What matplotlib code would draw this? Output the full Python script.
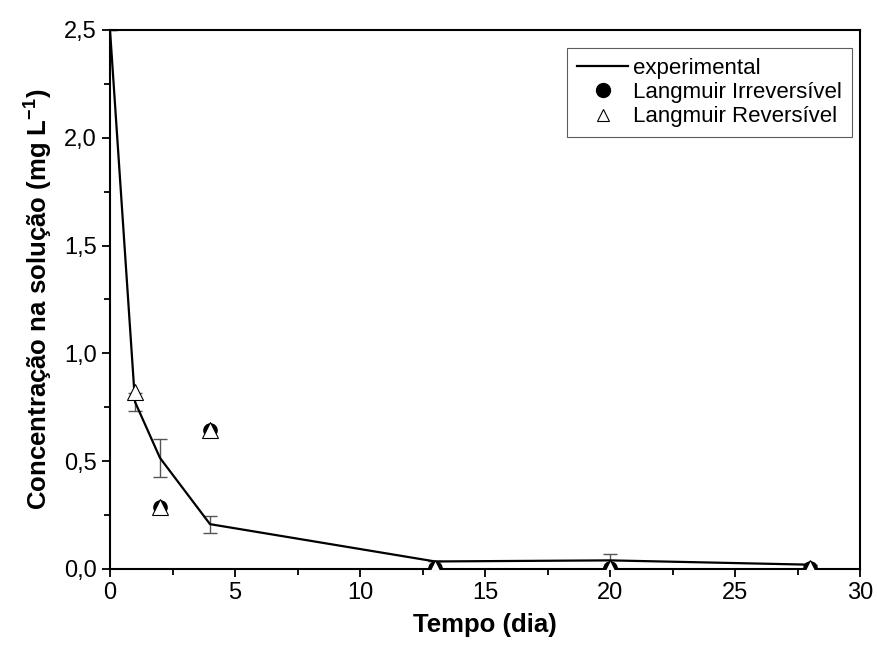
import matplotlib.pyplot as plt
import numpy as np

# dados
tempo = [0, 1, 2, 4, 13, 20, 28]
experimental = [2.5, 0.775, 0.515, 0.208, 0.035, 0.04, 0.02]
erro = [0, 0.04, 0.088, 0.04, 0, 0.03, 0]

tempo_irr = [2, 4, 13, 20, 28]
langmuir_irr = [0.289, 0.645, 0.005, 0.005, 0.005]

tempo_rev = [1, 2, 4, 13, 20, 28]
langmuir_rev = [0.82, 0.289, 0.645, 0.005, 0.005, 0.005]

plt.rcParams['font.family'] = ['Liberation Sans', 'DejaVu Sans']

fig = plt.figure(figsize=(8.78, 6.55), dpi=100)
ax = fig.add_axes([0.1253, 0.1313, 0.8542, 0.8229])

ax.errorbar(tempo, experimental, yerr=erro, fmt='none', ecolor='#555555',
            elinewidth=1, capsize=5, capthick=1, zorder=2)
ax.plot(tempo, experimental, color='black', lw=1.6, label='experimental', zorder=3)
ax.plot(tempo_irr, langmuir_irr, 'o', color='black', ms=9.5, ls='none',
        label='Langmuir Irreversível', zorder=4)
ax.plot(tempo_rev, langmuir_rev, '^', mfc='white', mec='black', mew=0.8, ms=11,
        ls='none', label='Langmuir Reversível', zorder=5)

ax.set_xlim(0, 30)
ax.set_ylim(0, 2.5)
ax.set_xticks(np.arange(0, 31, 5))
ax.set_xticks(np.arange(2.5, 30, 5), minor=True)
ax.set_yticks(np.arange(0, 2.51, 0.5))
ax.set_yticks(np.arange(0.25, 2.5, 0.5), minor=True)
fmt = lambda v, p: f'{v:.1f}'.replace('.', ',')
ax.yaxis.set_major_formatter(plt.FuncFormatter(fmt))

ax.tick_params(which='major', direction='out', length=6, width=1.3, labelsize=17)
ax.tick_params(which='minor', direction='out', length=4, width=1.3)
for s in ax.spines.values():
    s.set_linewidth(1.5)

ax.set_xlabel('Tempo (dia)', fontsize=18.5, fontweight='bold', labelpad=6)
ax.set_ylabel('Concentração na solução (mg L$^{\\mathregular{-1}}$)', fontsize=18.5,
              fontweight='bold', labelpad=7)

leg = ax.legend(loc='upper right', bbox_to_anchor=(0.989, 0.967), fontsize=16,
                frameon=True, fancybox=False, edgecolor='#333333',
                handlelength=2.3, handletextpad=0.2, borderpad=0.45,
                labelspacing=0.15, borderaxespad=0)
leg.get_frame().set_linewidth(0.8)
leg.legend_handles[1].set_markersize(10)
leg.legend_handles[2].set_markersize(9)

fig.savefig('out.png', dpi=100)
